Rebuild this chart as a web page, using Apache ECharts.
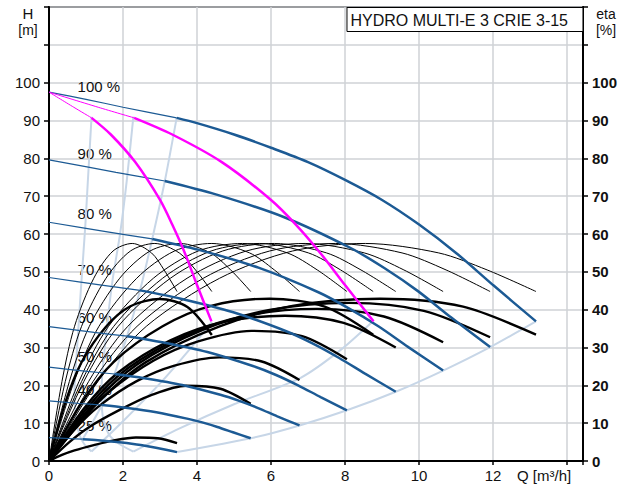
<!DOCTYPE html>
<html><head><meta charset="utf-8">
<script src="https://cdn.jsdelivr.net/npm/echarts@6/dist/echarts.min.js"></script>
<style>html,body{margin:0;padding:0;background:#fff}#c{width:629px;height:489px}</style>
</head><body><div id="c"></div>
<script>
// ---- axis ticks ----
const xTicks = [0, 2, 4, 6, 8, 10, 12, 14];
const yTicks = [0, 10, 20, 30, 40, 50, 60, 70, 80, 90, 100];
const xUnitLabel = 'Q [m³/h]';
const titleText = 'HYDRO MULTI-E 3 CRIE 3-15';

// ---- speed labels ----
const speedLabels = ['100 %', '90 %', '80 %', '70 %', '60 %', '50 %', '40 %', '25 %'];
const speedLabelAt = [[0.76, 99.1], [0.76, 81.4], [0.76, 65.3], [0.76, 50.5], [0.76, 38], [0.76, 27.6], [0.76, 18.8], [0.76, 9.5]];

// ---- QH curves (blue), thin part = below min flow ----
const blue100Thin = [[0, 97.5], [1, 95.6], [2, 93.5], [3.45, 90.7]];
const blue100 = [[3.45, 90.7], [4, 89.3], [5, 86.3], [6, 82.8], [7, 79], [8, 74.3], [9, 69], [10, 62.5], [11, 55], [12, 46.5], [13.16, 36.9]];
const blue90Thin = [[0, 79.6], [1.81, 76.3], [3.13, 74.0]];
const blue90 = [[3.13, 74.0], [4.53, 70.4], [6.34, 64.5], [8.15, 56.3], [9.06, 51.0], [9.97, 44.9], [10.87, 37.9], [11.92, 30.1]];
const blue80Thin = [[0, 63.1], [1.62, 60.5], [2.79, 58.7]];
const blue80 = [[2.79, 58.7], [4.05, 55.8], [5.66, 51.1], [7.28, 44.6], [8.09, 40.4], [8.9, 35.6], [9.71, 30.1], [10.65, 23.9]];
const blue70Thin = [[0, 48.5], [1.42, 46.5], [2.46, 45.1]];
const blue70 = [[2.46, 45.1], [3.56, 42.9], [4.98, 39.3], [6.41, 34.3], [7.12, 31.1], [7.83, 27.3], [8.54, 23.1], [9.37, 18.3]];
const blue60Thin = [[0, 35.5], [1.22, 34.0], [2.11, 33.0]];
const blue60 = [[2.11, 33.0], [3.06, 31.4], [4.28, 28.8], [5.51, 25.1], [6.12, 22.8], [6.73, 20.0], [7.34, 16.9], [8.05, 13.4]];
const blue50Thin = [[0, 24.8], [1.03, 23.7], [1.77, 23.0]];
const blue50 = [[1.77, 23.0], [2.57, 21.9], [3.6, 20.1], [4.63, 17.5], [5.14, 15.9], [5.65, 14.0], [6.17, 11.8], [6.77, 9.4]];
const blue40Thin = [[0, 15.9], [0.83, 15.2], [1.43, 14.8]];
const blue40 = [[1.43, 14.8], [2.07, 14.1], [2.9, 12.9], [3.73, 11.2], [4.14, 10.2], [4.55, 9.0], [4.97, 7.6], [5.45, 6.0]];
const blue25Thin = [[0, 6.2], [0.53, 5.95], [0.91, 5.77]];
const blue25 = [[0.91, 5.77], [1.32, 5.49], [1.84, 5.02], [2.37, 4.39], [2.63, 3.98], [2.89, 3.5], [3.16, 2.96], [3.46, 2.35]];

// ---- magenta QH curves ----
const mag1Thin = [[0, 97.5], [0.67, 93.5], [1.15, 90.7]];
const mag1 = [[1.15, 90.7], [1.67, 86.3], [2.33, 79], [3.0, 69], [3.33, 62.5], [3.67, 55], [4.0, 46.5], [4.39, 36.9]];
const mag2Thin = [[0, 97.5], [1.33, 93.5], [2.3, 90.7]];
const mag2 = [[2.3, 90.7], [3.33, 86.3], [4.67, 79], [6.0, 69], [6.67, 62.5], [7.33, 55], [8.0, 46.5], [8.77, 36.9]];

// ---- thin efficiency curves ----
const etaP346 = [[0, 0], [0.35, 21], [0.69, 35.6], [1.21, 48.3], [1.73, 55.5], [2.25, 57.5], [2.77, 55], [3.11, 50.5], [3.46, 44.8]];
const etaP440 = [[0, 0], [0.44, 21], [0.88, 35.6], [1.54, 48.3], [2.2, 55.5], [2.86, 57.5], [3.52, 55], [3.96, 50.5], [4.4, 44.8]];
const etaP545 = [[0, 0], [0.55, 21], [1.09, 35.6], [1.91, 48.3], [2.73, 55.5], [3.54, 57.5], [4.36, 55], [4.91, 50.5], [5.45, 44.8]];
const etaP677 = [[0, 0], [0.68, 21], [1.35, 35.6], [2.37, 48.3], [3.39, 55.5], [4.4, 57.5], [5.42, 55], [6.09, 50.5], [6.77, 44.8]];
const etaP805 = [[0, 0], [0.81, 21], [1.61, 35.6], [2.82, 48.3], [4.03, 55.5], [5.23, 57.5], [6.44, 55], [7.25, 50.5], [8.05, 44.8]];
const etaP876 = [[0, 0], [0.88, 21], [1.75, 35.6], [3.07, 48.3], [4.38, 55.5], [5.69, 57.5], [7.01, 55], [7.88, 50.5], [8.76, 44.8]];
const etaP937 = [[0, 0], [0.94, 21], [1.87, 35.6], [3.28, 48.3], [4.69, 55.5], [6.09, 57.5], [7.5, 55], [8.43, 50.5], [9.37, 44.8]];
const etaP1065 = [[0, 0], [1.07, 21], [2.13, 35.6], [3.73, 48.3], [5.33, 55.5], [6.92, 57.5], [8.52, 55], [9.59, 50.5], [10.65, 44.8]];
const etaP1192 = [[0, 0], [1.19, 21], [2.38, 35.6], [4.17, 48.3], [5.96, 55.5], [7.75, 57.5], [9.54, 55], [10.73, 50.5], [11.92, 44.8]];
const etaP1316 = [[0, 0], [1.32, 21], [2.63, 35.6], [4.61, 48.3], [6.58, 55.5], [8.55, 57.5], [10.53, 55], [11.84, 50.5], [13.16, 44.8]];

// ---- thick efficiency curves ----
const etaT100 = [[0, 0], [1.32, 15.4], [2.63, 26.2], [4.61, 35.6], [6.58, 41], [8.95, 42.9], [11.19, 40.8], [13.16, 33.4]];
const etaT90 = [[0, 0], [1.19, 15], [2.38, 25.5], [4.17, 34.7], [5.96, 39.9], [8.11, 41.8], [10.13, 39.7], [11.92, 32.7]];
const etaT80 = [[0, 0], [1.07, 14.5], [2.13, 24.5], [3.73, 33.4], [5.33, 38.4], [7.24, 40.2], [9.05, 38.2], [10.65, 31.4]];
const etaT70 = [[0, 0], [0.94, 13.8], [1.87, 23.4], [3.28, 31.9], [4.69, 36.7], [6.37, 38.4], [7.96, 36.5], [9.37, 30]];
const etaT60 = [[0, 0], [0.81, 10.3], [1.61, 18.2], [2.82, 26.5], [4.03, 31.6], [5.47, 34.4], [6.84, 33], [8.05, 26.9]];
const etaT50 = [[0, 0], [0.68, 8.2], [1.35, 14.5], [2.37, 21.1], [3.39, 25.2], [4.6, 27.4], [5.75, 26.3], [6.77, 21.4]];
const etaT40 = [[0, 0], [0.55, 5], [1.09, 9], [1.91, 13.5], [2.73, 17.3], [3.71, 19.9], [4.63, 19.1], [5.45, 15.1]];
const etaT25 = [[0, 0], [0.35, 1.6], [0.69, 2.8], [1.21, 4.2], [1.73, 5.4], [2.35, 6.2], [2.94, 6], [3.46, 4.7]];
const etaTm1 = [[0, 0], [0.44, 15.4], [0.88, 26.1], [1.54, 35.5], [2.2, 40.9], [2.99, 42.8], [3.74, 40.7], [4.4, 33.3]];
const etaTm2 = [[0, 0], [0.88, 15.4], [1.75, 26.2], [3.07, 35.6], [4.38, 41], [5.96, 42.9], [7.45, 40.8], [8.76, 33.4]];

// ---- operating range boundaries (light blue) ----
const lbMin1 = [[1.15, 91], [1.05, 74], [0.98, 62], [0.88, 48], [0.76, 30], [0.69, 19], [0.72, 12], [0.82, 7], [0.95, 4.5], [1.15, 2.5]];
const lbMax1 = [[1.15, 2.5], [2.0, 10.5], [3.0, 20.5], [3.8, 29.5], [4.4, 36.8]];
const lbMin2 = [[2.28, 91], [2.1, 74], [1.92, 60], [1.72, 48], [1.54, 33], [1.42, 19], [1.45, 12], [1.62, 7], [1.9, 4.5], [2.28, 2.5]];
const lbMax2 = [[2.28, 2.5], [3.5, 8.5], [5, 15], [6.8, 22], [7.9, 29.5], [8.76, 37]];
const lbMin3 = [[3.45, 90.7], [3.13, 74], [2.79, 58.7], [2.46, 45.1], [2.11, 33], [1.77, 23], [1.43, 14.8], [0.91, 5.77]];
const lbMax3 = [[3.46, 2.35], [5.45, 6.0], [6.77, 9.4], [8.05, 13.4], [9.37, 18.3], [10.65, 23.9], [11.92, 30.1], [13.16, 36.9]];

// ---- styling ----
const FONT = 'Liberation Sans, Arial, sans-serif';
const TXT = '#111111';
const BLUE = '#1c5a94';
const LBLUE = '#c7d6e7';
const MAG = '#ff00ff';
const GRID = '#cfd2d6';

function curve(data, color, width, z, sm) {
  return { type: 'line', data: data, symbol: 'none', showSymbol: false, smooth: sm === undefined ? 0.3 : sm,
           lineStyle: { color: color, width: width }, z: z, silent: true, animation: false };
}

const series = [];
series.push({ type: 'scatter', z: 1, data: speedLabelAt, symbolSize: 1,
  itemStyle: { color: '#ffffff', opacity: 1 }, silent: true,
  label: { show: true, position: 'right', distance: 0, opacity: 1, formatter: p => speedLabels[p.dataIndex],
           fontSize: 15, color: TXT, fontFamily: FONT } });
[lbMin1, lbMax1, lbMin2, lbMax2, lbMin3, lbMax3].forEach(d => series.push(curve(d, LBLUE, 2, 2, 0.25)));
[etaP346, etaP440, etaP545, etaP677, etaP805, etaP876, etaP937, etaP1065, etaP1192, etaP1316]
  .forEach(d => series.push(curve(d, '#000', 1, 3)));
[etaT100, etaT90, etaT80, etaT70, etaT60, etaT50, etaT40, etaT25, etaTm1, etaTm2]
  .forEach(d => series.push(curve(d, '#000', 2.4, 4)));
[blue100Thin, blue90Thin, blue80Thin, blue70Thin, blue60Thin, blue50Thin, blue40Thin, blue25Thin]
  .forEach(d => series.push(curve(d, BLUE, 1.2, 5)));
[blue100, blue90, blue80, blue70, blue60, blue50, blue40, blue25]
  .forEach(d => series.push(curve(d, BLUE, 2.5, 5)));
[mag1Thin, mag2Thin].forEach(d => series.push(curve(d, MAG, 1, 6)));
[mag1, mag2].forEach(d => series.push(curve(d, MAG, 2.5, 6)));

const chart = echarts.init(document.getElementById('c'), null, { renderer: 'svg' });
chart.setOption({
  animation: false,
  textStyle: { fontFamily: FONT },
  grid: { left: 49, right: 46, top: 7, bottom: 28, show: true, borderColor: '#000', borderWidth: 2,
          containLabel: false, outerBoundsMode: 'none' },
  title: { text: titleText, right: 46, top: 7, backgroundColor: '#fff', borderColor: '#000', borderWidth: 1,
           padding: [5, 15, 4, 4], textStyle: { fontSize: 16, fontWeight: 'normal', color: TXT, fontFamily: FONT } },
  graphic: [
    { type: 'text', x: 28, y: 13, style: { text: 'H', fontSize: 15, fontFamily: FONT, fill: TXT, align: 'center', verticalAlign: 'middle' } },
    { type: 'text', x: 28, y: 30, style: { text: '[m]', fontSize: 14, fontFamily: FONT, fill: TXT, align: 'center', verticalAlign: 'middle' } },
    { type: 'text', x: 606, y: 14, style: { text: 'eta', fontSize: 14, fontFamily: FONT, fill: TXT, align: 'center', verticalAlign: 'middle' } },
    { type: 'text', x: 606, y: 30, style: { text: '[%]', fontSize: 14, fontFamily: FONT, fill: TXT, align: 'center', verticalAlign: 'middle' } }
  ],
  xAxis: {
    type: 'value', min: 0, max: 14.43, interval: 2,
    axisLine: { show: true, onZero: false, lineStyle: { color: '#000', width: 2 } },
    axisTick: { show: true, length: 4, lineStyle: { color: '#000', width: 1.5 } },
    splitLine: { show: true, lineStyle: { color: GRID, width: 1.5 } },
    axisLabel: {
      fontSize: 15, color: TXT, margin: 7, showMaxLabel: true, hideOverlap: false,
      formatter: v => {
        if (v === 14) return '{q|' + xUnitLabel + '}';
        return xTicks.indexOf(v) >= 0 ? String(v) : '';
      },
      rich: { q: { fontSize: 15, color: TXT, fontFamily: FONT, padding: [0, 46, 0, 0] } }
    }
  },
  yAxis: [
    { type: 'value', min: 0, max: 120, interval: 10, position: 'left',
      axisLine: { show: true, onZero: false, lineStyle: { color: '#000', width: 2 } },
      axisTick: { show: true, length: 5, lineStyle: { color: '#000', width: 1.5 } },
      splitLine: { show: true, lineStyle: { color: GRID, width: 1.5 } },
      axisLabel: { fontSize: 15, color: TXT, margin: 9, formatter: v => yTicks.indexOf(v) >= 0 ? String(v) : '' } },
    { type: 'value', min: 0, max: 120, interval: 10, position: 'right',
      axisLine: { show: true, onZero: false, lineStyle: { color: '#000', width: 2 } },
      axisTick: { show: true, length: 5, lineStyle: { color: '#000', width: 1.5 } },
      splitLine: { show: false },
      axisLabel: { fontSize: 15, color: TXT, fontWeight: 'bold', margin: 9, formatter: v => yTicks.indexOf(v) >= 0 ? String(v) : '' } }
  ],
  series: series
});
</script></body></html>
